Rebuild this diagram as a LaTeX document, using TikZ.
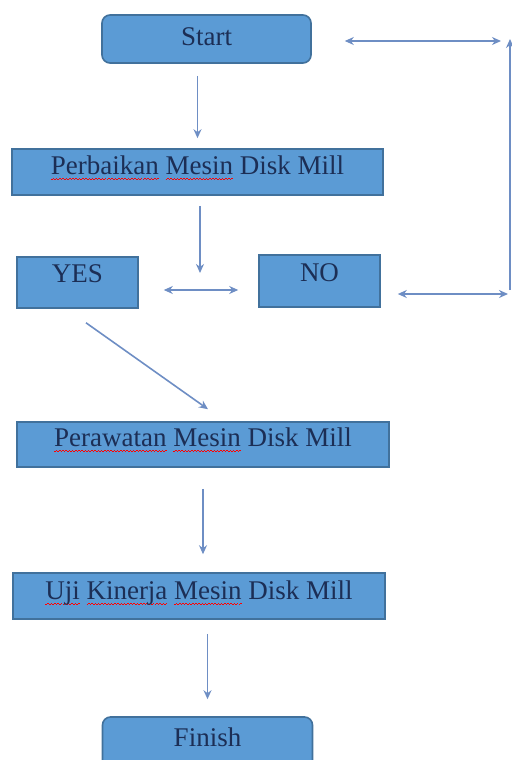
\documentclass[tikz,border=0pt]{standalone}
\usepackage{fontspec}
\setmainfont{Liberation Serif}
\usetikzlibrary{arrows.meta}
\definecolor{boxfill}{HTML}{5B9BD5}
\definecolor{boxline}{HTML}{41719C}
\definecolor{arrowcol}{RGB}{110,142,196}
\definecolor{textcol}{HTML}{1C2E55}
% garis merah bergelombang di bawah kata
\newbox\ejaanbox
\newcommand\gelombang{\hbox{\rule[0pt]{0.8pt}{0.35pt}\rule[0.5pt]{0.8pt}{0.35pt}}}
\newcommand\ejaan[1]{\setbox\ejaanbox\hbox{#1}\rlap{\lower2.6pt\hbox to\wd\ejaanbox{\color{red}\xleaders\gelombang\hfil}}\box\ejaanbox}
\begin{document}
\begin{tikzpicture}[
        x=0.5pt, y=-0.5pt,
        font=\fontsize{13.5}{16}\selectfont,
        box/.style={rectangle, draw=boxline, line width=0.8pt, fill=boxfill, text=textcol, inner sep=0pt, text height=12.5pt, text depth=10.5pt},
        startend/.style={box, rounded corners=4pt},
        flow/.style={-{Stealth[length=4.5pt,width=4pt]}, draw=arrowcol, line width=0.8pt},
        biflow/.style={{Stealth[length=4.5pt,width=4pt]}-{Stealth[length=4.5pt,width=4pt]}, draw=arrowcol, line width=0.8pt}
    ]
    \useasboundingbox (0,0) rectangle (512,760);

        % Kotak
        \node[startend, minimum width=104.5pt, text height=15pt, text depth=9pt] (start) at (206.5,39) {Start};
        \node[box, minimum width=185.5pt] (perbaikan) at (197.5,172) {\ejaan{Perbaikan} \ejaan{Mesin} Disk Mill};
        \node[box, minimum width=60.5pt, text depth=13pt] (yes) at (77.5,282.5) {YES};
        \node[box, minimum width=60.5pt, text height=13pt, text depth=13pt] (no) at (319.5,281) {NO};
        \node[box, minimum width=186pt, text height=12pt] (perawatan) at (203,444.5) {\ejaan{Perawatan} \ejaan{Mesin} Disk Mill};
        \node[box, minimum width=186pt, text height=13pt, text depth=10pt] (uji) at (199,596) {\ejaan{Uji} \ejaan{Kinerja} \ejaan{Mesin} Disk Mill};
        \node[startend, minimum width=105pt, text height=14.5pt, text depth=12pt] (finish) at (207.5,743.5) {Finish};

        % Titik bebas
        \coordinate (split) at (200,273);
        \coordinate (loopT) at (510,41);
        \coordinate (loopB) at (510,294);

        % Panah
        \draw[flow, shorten <=6pt, shorten >=5pt] (start.south -| perbaikan.north) -- (perbaikan.north);
        \draw[flow, shorten <=5pt] (perbaikan.south -| split) -- (split);
        \draw[biflow, shorten <=12.5pt, shorten >=10pt] ([yshift=-3.75pt]yes.east) -- ([yshift=-3.75pt]yes.east -| no.west);
        \draw[flow] ([shift={(8.5,14)}]yes.south) -- ([shift={(5,-12)}]perawatan.north);
        \draw[flow, shorten <=10.5pt, shorten >=9pt] (perawatan.south) -- (perawatan.south |- uji.north);
        \draw[flow, shorten <=7pt, shorten >=8.5pt] (uji.south -| finish.north) -- (finish.north);

        % Putaran kanan
        \draw[biflow, shorten <=16.5pt, shorten >=4.5pt] (start.east |- loopT) -- (loopT);
        \draw[biflow, shorten <=8.5pt, shorten >=1pt] (no.east |- loopB) -- (loopB);
        \draw[flow, shorten <=2pt, shorten >=-1pt] (loopB) -- (loopT);

    \end{tikzpicture}
\end{document}
